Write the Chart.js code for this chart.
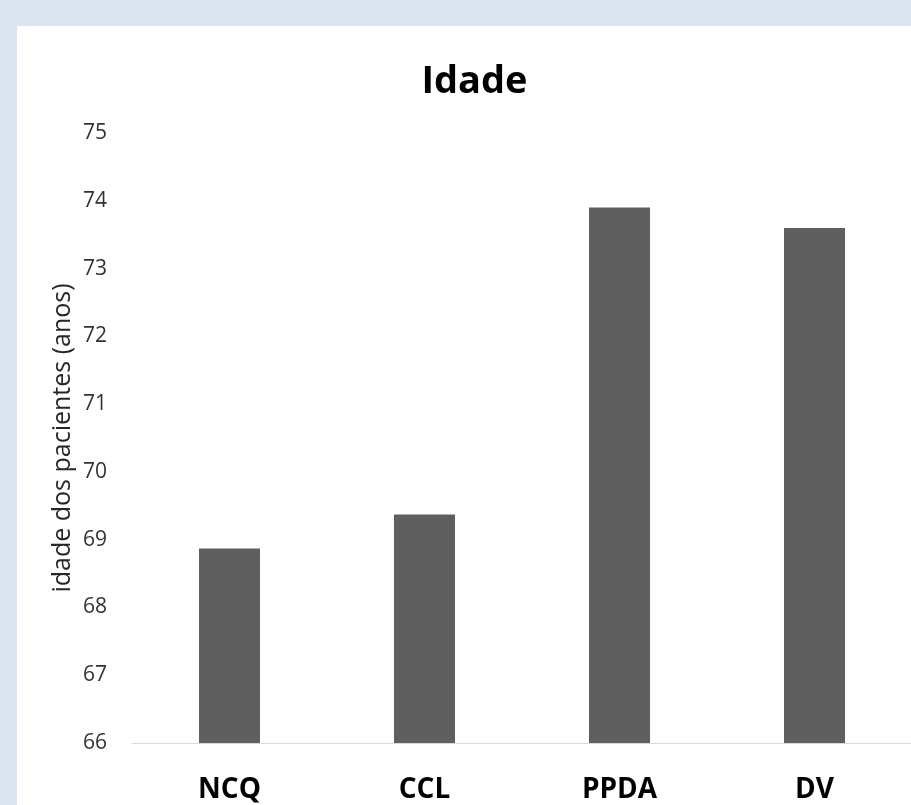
<!DOCTYPE html>
<html>
<head>
<meta charset="utf-8">
<script src="https://cdn.jsdelivr.net/npm/chart.js@4/dist/chart.umd.min.js"></script>
<style>
  html, body { margin: 0; padding: 0; width: 911px; height: 805px; overflow: hidden; background: #dce6f1; }
  #card { position: absolute; left: 17px; top: 26px; width: 1000px; height: 1000px; background: #ffffff; }
  #c { position: absolute; left: 0; top: 0; }
</style>
</head>
<body>
<div id="card"><canvas id="c" width="925" height="777"></canvas></div>
<script>
const categories = ['NCQ', 'CCL', 'PPDA', 'DV'];
const ageValues = [68.87, 69.37, 73.9, 73.6];
const yMin = 66;
const yMax = 75;
const chartTitle = 'Idade';
const yAxisTitle = 'idade dos pacientes (anos)';

new Chart(document.getElementById('c'), {
  type: 'bar',
  data: {
    labels: categories,
    datasets: [{
      data: ageValues,
      backgroundColor: '#5f5f5f',
      borderWidth: 0,
      categoryPercentage: 1,
      barPercentage: 0.313
    }]
  },
  options: {
    responsive: false,
    animation: false,
    devicePixelRatio: 1,
    layout: { padding: { left: 20, right: 30, top: 0, bottom: 0 } },
    plugins: {
      legend: { display: false },
      tooltip: { enabled: false },
      title: {
        display: true,
        text: chartTitle,
        color: '#000000',
        font: { family: 'Open Sans', size: 38, weight: 'bold' },
        padding: { top: 33, bottom: 28.4 }
      }
    },
    scales: {
      x: {
        grid: { display: false, drawTicks: false },
        border: { display: true, color: '#d9d9d9', width: 1 },
        ticks: {
          color: '#000000',
          font: { family: 'Open Sans', size: 28, weight: 'bold' },
          padding: 30,
          maxRotation: 0
        },
        afterFit: (s) => { s.height = 60; }
      },
      y: {
        min: yMin,
        max: yMax,
        grid: { display: false, drawTicks: false },
        border: { display: false },
        ticks: {
          stepSize: 1,
          color: '#333333',
          font: { family: 'Open Sans', size: 21 },
          padding: 25
        },
        title: {
          display: true,
          text: yAxisTitle,
          color: '#262626',
          font: { family: 'Open Sans', size: 25 },
          padding: { top: 11, bottom: 0 }
        },
        afterFit: (s) => { s.width = 95; }
      }
    }
  }
});
</script>
</body>
</html>
